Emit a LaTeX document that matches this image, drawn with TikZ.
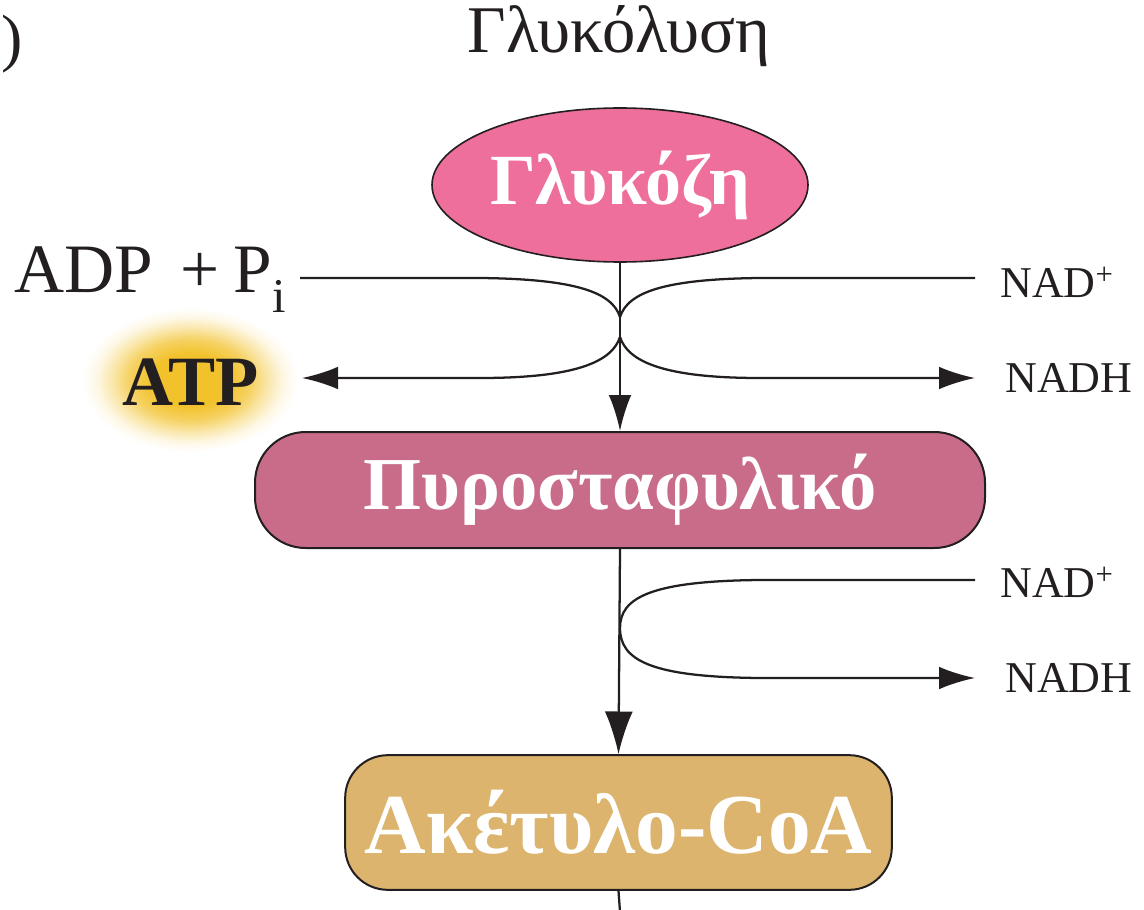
\documentclass[tikz,border=0pt]{standalone}
\usepackage{fontspec}
\setmainfont{Liberation Serif}
\usetikzlibrary{shapes.geometric,arrows.meta}
\definecolor{gluc}{HTML}{EE6F9B}
\definecolor{pyrc}{HTML}{C86C89}
\definecolor{acoc}{HTML}{DCB46E}
\definecolor{glowc}{HTML}{F2C22C}
\definecolor{ink}{HTML}{231F20}
\pgfdeclareradialshading{atpglow}{\pgfpointorigin}{color(0bp)=(glowc); color(9bp)=(glowc); color(14bp)=(glowc!75!white); color(18bp)=(glowc!40!white); color(21.5bp)=(glowc!13!white); color(25bp)=(white); color(50bp)=(white)}
\tikzset{
  conn/.style={draw=ink, line width=1.7pt},
  arr/.style={conn, -{Latex[length=27pt,width=17pt]}},
  bigarr/.style={conn, -{Latex[length=32pt,width=21pt]}},
  boxtext/.style={text=white, font=\bfseries\fontsize{56}{56}\selectfont},
  lbl/.style={font=\fontsize{33}{33}\selectfont, inner sep=0pt, text=ink},
}
\begin{document}
\begin{tikzpicture}[x=0.75pt,y=-0.75pt]
\useasboundingbox (0,0) rectangle (1144,909);
% partial label at top left
\node[anchor=base east, inner sep=0pt, font=\fontsize{48}{48}\selectfont, text=ink] (part) at (23,60) {)};
% title
\node[anchor=base, inner sep=0pt, font=\fontsize{50}{50}\selectfont, text=ink] (title) at (619,53) {Γλυκόλυση};
% ATP glow
\shade[shading=atpglow] (190,380) ellipse [x radius=108, y radius=72];
% nodes
\node[ellipse, draw=ink, line width=1.2pt, fill=gluc, minimum width=282pt, minimum height=115.5pt, inner sep=0pt, boxtext, font=\bfseries\fontsize{54}{54}\selectfont] (glu) at (620,185) {Γλυκόζη};
\node[rectangle, rounded corners=38pt, draw=ink, line width=1.5pt, fill=pyrc, minimum width=547.5pt, minimum height=87pt, inner sep=0pt, boxtext] (pyr) at (620,490) {Πυροσταφυλικό};
\node[rectangle, rounded corners=32pt, draw=ink, line width=1.5pt, fill=acoc, minimum width=410pt, minimum height=101pt, inner sep=0pt, boxtext, font=\bfseries\fontsize{64}{64}\selectfont] (acoa) at (618.5,822.5) {Ακέτυλο-CoA};
% labels
\node[anchor=base west, inner sep=0pt, font=\fontsize{52}{52}\selectfont, text=ink] (adp) at (14,292) {ADP\hspace{0.4em}+\hspace{0.2em}P\textsubscript{i}};
\node[anchor=base, inner sep=0pt, font=\bfseries\fontsize{53}{53}\selectfont, text=ink] (atp) at (191,405) {ATP};
\node[lbl, anchor=base west] (nadA) at (1000,297) {NAD\textsuperscript{+}};
\node[lbl, anchor=base west] (nadhA) at (1005,392) {NADH};
\node[lbl, anchor=base west] (nadB) at (1000,597) {NAD\textsuperscript{+}};
\node[lbl, anchor=base west] (nadhB) at (1005,692) {NADH};
% coordinates
\coordinate (inL) at (300,278);
\coordinate (inR) at (975,278);
\coordinate (outL) at (302,378);
\coordinate (outR) at (975,378);
\coordinate (x1) at (620,317);
\coordinate (x2) at (620,337);
\coordinate (inB) at (975,580);
\coordinate (outB) at (975,678);
\coordinate (bottom) at (620,912);
% main flow
\draw[arr] (glu.south) -- (pyr.north);
\draw[bigarr] (pyr.south) -- (acoa.north);
\draw[conn] (acoa.south) -- (bottom);
% glycolysis crossings
\draw[conn] (inL) -- (480,278) .. controls (575,279) and (612,292) .. (x1);
\draw[conn] (inR) -- (760,278) .. controls (665,279) and (628,292) .. (x1);
\draw[arr] (x2) .. controls (612,362) and (575,378) .. (480,378) -- (outL);
\draw[arr] (x2) .. controls (628,362) and (665,378) .. (760,378) -- (outR);
% pyruvate oxidation loop
\draw[arr] (inB) -- (760,580) .. controls (650,581) and (620,598) .. (620,628) .. controls (620,660) and (650,677) .. (760,678) -- (outB);
\end{tikzpicture}
\end{document}
